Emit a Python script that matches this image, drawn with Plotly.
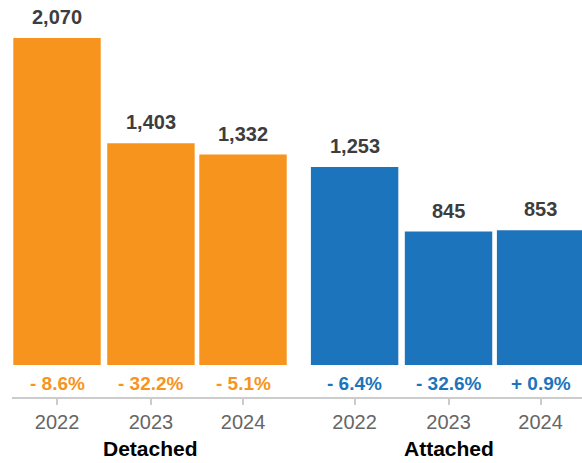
import plotly.graph_objects as go

# Sales by year for each housing type
years = ["2022", "2023", "2024"]
detached_sales = [2070, 1403, 1332]
attached_sales = [1253, 845, 853]
detached_change = ["- 8.6%", "- 32.2%", "- 5.1%"]
attached_change = ["- 6.4%", "- 32.6%", "+ 0.9%"]
group_names = ["Detached", "Attached"]

# numeric slot positions: two groups of three with a wider gap between groups
detached_x = [0, 1.01, 2.0]
attached_x = [3.2, 4.21, 5.2]

ORANGE = "#F7941D"
BLUE = "#1C75BC"
FONT = "Liberation Sans, Arial, Helvetica, sans-serif"

fig = go.Figure()
fig.add_bar(x=detached_x, y=detached_sales, marker_color=ORANGE, width=0.94,
            marker_line_width=0, hoverinfo="skip")
fig.add_bar(x=attached_x, y=attached_sales, marker_color=BLUE, width=0.94,
            marker_line_width=0, hoverinfo="skip")

annotations = []
for xs, vals, changes, color in [(detached_x, detached_sales, detached_change, ORANGE),
                                 (attached_x, attached_sales, attached_change, BLUE)]:
    for x, v, c in zip(xs, vals, changes):
        annotations.append(dict(x=x, y=v, xref="x", yref="y", text=f"<b>{v:,}</b>",
                                showarrow=False, yanchor="bottom", yshift=8,
                                font=dict(size=20, color="#3d3d3d", family=FONT)))
        annotations.append(dict(x=x, y=0, xref="x", yref="y", text=f"<b>{c}</b>",
                                showarrow=False, yanchor="middle", yshift=-18,
                                font=dict(size=19, color=color, family=FONT)))

for name, xs in zip(group_names, [detached_x, attached_x]):
    annotations.append(dict(x=xs[1], y=0, xref="x", yref="paper", text=f"<b>{name}</b>",
                            showarrow=False, yanchor="middle", yshift=-51,
                            font=dict(size=21, color="#000000", family=FONT)))

fig.update_layout(
    width=582, height=463,
    margin=dict(l=12, r=0, t=0, b=66),
    plot_bgcolor="white", paper_bgcolor="white",
    showlegend=False,
    barmode="overlay",
    annotations=annotations,
    font=dict(family=FONT),
)
fig.update_xaxes(
    range=[-0.484, 5.645],
    tickvals=detached_x + attached_x,
    ticktext=years + years,
    showgrid=False, zeroline=False,
    showline=True, linecolor="#cccccc", linewidth=2,
    ticks="outside", ticklen=6, tickcolor="#cccccc", tickwidth=2,
    tickfont=dict(size=20, color="#666666", family=FONT),
)
fig.update_yaxes(
    range=[-202.6, 2310.6],
    visible=False, showgrid=False, zeroline=False,
)

fig.write_html("out.html")
